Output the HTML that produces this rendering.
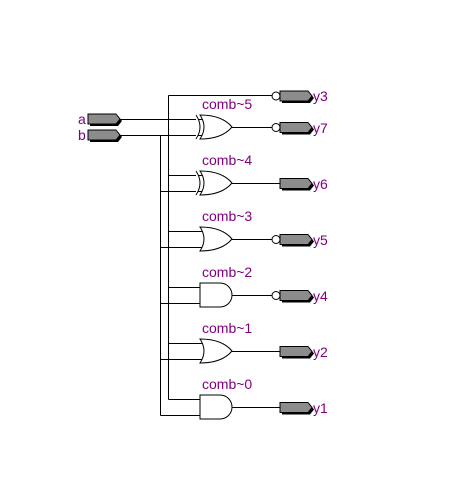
<!DOCTYPE html>
<html><head><style>body{margin:0;background:#fff}svg{display:block}</style></head>
<body>
<svg width="460" height="492" xmlns="http://www.w3.org/2000/svg" font-family="Liberation Sans, sans-serif" font-size="14" fill="none" stroke="#000" stroke-width="1">
<defs>
<g id="pin"><polygon points="2,-3 30,-3 34,2 30,7 2,7" fill="#000" stroke="none"/><polygon points="0,-5 28,-5 32,0 28,5 0,5" fill="#8c8c8c" stroke="#000"/></g>
</defs>
<use href="#pin" x="88" y="119"/>
<use href="#pin" x="88" y="135"/>
<text x="78" y="124" fill="#800080" stroke="none">a</text>
<text x="78" y="140" fill="#800080" stroke="none">b</text>
<path d="M120.5,119.5H204 M120.5,135.5H204 M168.5,95.5V399.5 M160.5,135.5V415.5 M168.5,95.5H272"/>
<path d="M168.5,175.5H204 M160.5,191.5H204 M168.5,231.5H203 M160.5,247.5H203 M168.5,287.5H200 M160.5,303.5H200 M168.5,343.5H203 M160.5,359.5H203 M168.5,399.5H200 M160.5,415.5H200"/>
<g fill="#fff">
<path d="M200,115 Q222,115 232,127 Q222,139 200,139 Q208,127 200,115Z"/>
<path d="M196,115 Q204,127 196,139"/>
<path d="M200,171 Q222,171 232,183 Q222,195 200,195 Q208,183 200,171Z"/>
<path d="M196,171 Q204,183 196,195"/>
<path d="M200,227 Q222,227 232,239 Q222,251 200,251 Q208,239 200,227Z"/>
<path d="M200,283 H220 A12,12 0 0 1 220,307 H200Z"/>
<path d="M200,339 Q222,339 232,351 Q222,363 200,363 Q208,351 200,339Z"/>
<path d="M200,395 H220 A12,12 0 0 1 220,419 H200Z"/>
</g>
<path d="M232,127.5H272 M232,183.5H280 M232,239.5H272 M232,295.5H272 M232,351.5H280 M232,407.5H280"/>
<g fill="#fff"><circle cx="276" cy="96" r="4"/><circle cx="276" cy="127.5" r="4"/><circle cx="276" cy="239.5" r="4"/><circle cx="276" cy="295.5" r="4"/></g>
<use href="#pin" x="280" y="96"/>
<use href="#pin" x="280" y="127.5"/>
<use href="#pin" x="280" y="183.5"/>
<use href="#pin" x="280" y="239.5"/>
<use href="#pin" x="280" y="295.5"/>
<use href="#pin" x="280" y="351.5"/>
<use href="#pin" x="280" y="407.5"/>
<g fill="#800080" stroke="none" font-size="14">
<text x="313" y="101">y3</text><text x="313" y="133">y7</text><text x="313" y="189">y6</text><text x="313" y="245">y5</text><text x="313" y="301">y4</text><text x="313" y="357">y2</text><text x="313" y="413">y1</text>
</g>
<g fill="#800080" stroke="none">
<text x="202" y="109">comb~5</text><text x="202" y="165">comb~4</text><text x="202" y="221">comb~3</text><text x="202" y="277">comb~2</text><text x="202" y="333">comb~1</text><text x="202" y="389">comb~0</text>
</g>
</svg>
</body></html>
